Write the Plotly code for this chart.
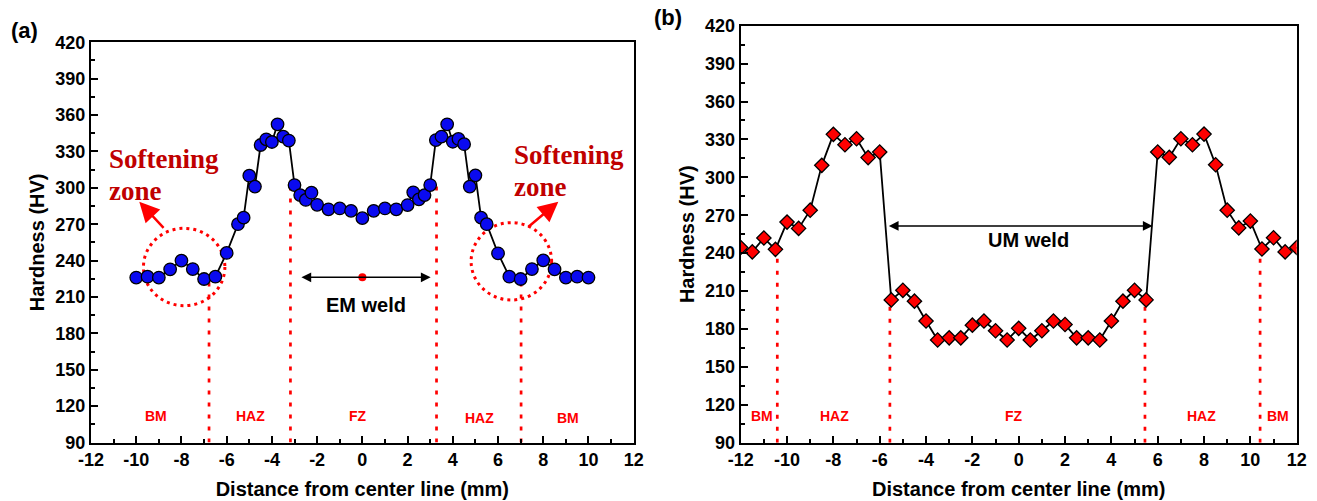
import plotly.graph_objects as go

# ---------------- data ----------------
# Panel (a): EM weld
dist_a = [-10, -9.5, -9, -8.5, -8, -7.5, -7, -6.5, -6, -5.5, -5.25, -5, -4.75, -4.5,
          -4.25, -4, -3.75, -3.5, -3.25, -3, -2.75, -2.5, -2.25, -2, -1.5, -1, -0.5, 0,
          0.5, 1, 1.5, 2, 2.25, 2.5, 2.75, 3, 3.25, 3.5, 3.75, 4, 4.25, 4.5, 4.75, 5,
          5.25, 5.5, 6, 6.5, 7, 7.5, 8, 8.5, 9, 9.5, 10]
hv_a = [226, 226.7, 226, 232.8, 240, 233, 224.8, 226.7, 246.3, 270, 275.4, 310, 301, 335.3,
        340, 337.8, 352.4, 342.2, 339, 302.3, 294, 290, 296, 286, 282.3, 283, 281, 275,
        281, 283, 282.3, 285.8, 296.3, 290.5, 294, 302.3, 339.4, 342.2, 352.4, 338, 340.3, 336, 301, 310.3,
        275.4, 270, 246, 226.7, 224.8, 233, 240.2, 232.8, 226, 226.7, 226]

# Panel (b): UM weld
dist_b = [-12, -11.5, -11, -10.5, -10, -9.5, -9, -8.5, -8, -7.5, -7, -6.5, -6, -5.5, -5,
          -4.5, -4, -3.5, -3, -2.5, -2, -1.5, -1, -0.5, 0, 0.5, 1, 1.5, 2, 2.5, 3, 3.5,
          4, 4.5, 5, 5.5, 6, 6.5, 7, 7.5, 8, 8.5, 9, 9.5, 10, 10.5, 11, 11.5, 12]
hv_b = [244.5, 241, 252, 243, 264.6, 259.6, 274, 309.5, 334, 325.8, 330.5, 315.6, 320, 203, 210.6,
        202, 186.3, 171.3, 173, 173, 183, 186.3, 178.6, 171.3, 180.5, 171.3, 178.6, 186.3, 183.5, 173, 173, 171.3,
        186.3, 202, 210.6, 203, 320, 315.8, 330.5, 325.8, 334.2, 310, 274, 260, 265.4, 243.3, 252.2, 241, 244.5]

# tick labels
x_tickvals = [-12, -10, -8, -6, -4, -2, 0, 2, 4, 6, 8, 10, 12]
x_ticktext = ["-12", "-10", "-8", "-6", "-4", "-2", "0", "2", "4", "6", "8", "10", "12"]
y_tickvals = [90, 120, 150, 180, 210, 240, 270, 300, 330, 360, 390, 420]
y_ticktext = ["90", "120", "150", "180", "210", "240", "270", "300", "330", "360", "390", "420"]

# zone labels
zone_text_a = ["BM", "HAZ", "FZ", "HAZ", "BM"]
zone_x_a = [-9.14, -4.94, -0.18, 5.2, 9.11]
zone_y_a = [112, 111.6, 111.6, 110, 110]
zone_text_b = ["BM", "HAZ", "FZ", "HAZ", "BM"]
zone_x_b = [-11.1, -7.93, -0.2, 7.87, 11.19]
zone_y_b = [111.2, 111.5, 111, 111.5, 111]

# zone boundaries (x position, top value)
bound_x_a = [-6.78, -3.18, 3.28, 7.02]
bound_top_a = [226, 300, 301, 224]
bound_x_b = [-10.42, -5.56, 5.45, 10.42]
bound_top_b = [243, 203, 203, 243]

# weld-width arrows
em_arrow = [-2.76, 3.02, 226.2]
em_dot_x = [0]
em_dot_y = [226.2]
um_arrow = [-5.67, 5.78, 261.5]

# softening zone circles (cx, cy, rx, ry)
soft_circles = [(-7.88, 234.7, 1.8, 31.9), (6.59, 239.4, 1.78, 31.9)]

# ---------------- figure ----------------
W, H = 1317, 501
SANS = "Liberation Sans, Arial, sans-serif"
SERIF = "Liberation Serif, Times New Roman, serif"
RED = "#FF0000"
DARKRED = "#C00000"

fig = go.Figure()

fig.add_trace(go.Scatter(
    x=dist_a, y=hv_a, mode="lines+markers", xaxis="x", yaxis="y",
    line=dict(color="black", width=1.8),
    marker=dict(symbol="circle", size=12.5, color="#0A0AF0", line=dict(color="black", width=1.3)),
    showlegend=False))
fig.add_trace(go.Scatter(
    x=em_dot_x, y=em_dot_y, mode="markers", xaxis="x", yaxis="y",
    marker=dict(symbol="circle", size=8, color=RED), showlegend=False))
fig.add_trace(go.Scatter(
    x=dist_b, y=hv_b, mode="lines+markers", xaxis="x2", yaxis="y2",
    line=dict(color="black", width=1.8),
    marker=dict(symbol="diamond", size=11, color=RED, line=dict(color="black", width=1.3)),
    showlegend=False))

axis_common = dict(
    showline=True, linecolor="black", linewidth=2, mirror=True,
    ticks="inside", ticklen=7, tickwidth=2, tickcolor="black",
    showgrid=False, zeroline=False,
    tickfont=dict(family=SANS, size=18, color="black", weight="bold"),
    automargin=False,
)
xaxis_common = dict(axis_common, range=[-12, 12], tickmode="array",
                    tickvals=x_tickvals, ticktext=x_ticktext,
                    minor=dict(ticks="inside", ticklen=4, tickwidth=2, dtick=1, tick0=-12, tickcolor="black"),
                    title=dict(text="Distance from center line (mm)",
                               font=dict(family=SANS, size=20, color="black", weight="bold"),
                               standoff=13))
yaxis_common = dict(axis_common, range=[90, 420], tickmode="array",
                    tickvals=y_tickvals, ticktext=y_ticktext,
                    minor=dict(ticks="inside", ticklen=4, tickwidth=2, dtick=15, tick0=90, tickcolor="black"),
                    title=dict(text="Hardness (HV)",
                               font=dict(family=SANS, size=20, color="black", weight="bold"),
                               standoff=5))

fig.update_layout(
    width=W, height=H,
    margin=dict(l=0, r=0, t=0, b=0),
    paper_bgcolor="white", plot_bgcolor="white",
    xaxis=dict(xaxis_common, domain=[91 / W, 633.7 / W], anchor="y"),
    yaxis=dict(yaxis_common, domain=[1 - 442.5 / H, 1 - 42.3 / H], anchor="x"),
    xaxis2=dict(xaxis_common, domain=[740.7 / W, 1296.7 / W], anchor="y2"),
    yaxis2=dict(yaxis_common, domain=[1 - 442.7 / H, 1 - 25.7 / H], anchor="x2"),
)

shapes = []
for bx, bt in zip(bound_x_a, bound_top_a):
    shapes.append(dict(type="line", xref="x", yref="y", x0=bx, x1=bx, y0=90, y1=bt,
                       line=dict(color=RED, width=2.7, dash="4px,8px"), layer="below"))
for bx, bt in zip(bound_x_b, bound_top_b):
    shapes.append(dict(type="line", xref="x2", yref="y2", x0=bx, x1=bx, y0=90, y1=bt,
                       line=dict(color=RED, width=2.7, dash="4px,8px"), layer="below"))
for cx, cy, rx, ry in soft_circles:
    shapes.append(dict(type="circle", xref="x", yref="y", x0=cx - rx, x1=cx + rx, y0=cy - ry, y1=cy + ry,
                       line=dict(color=RED, width=3, dash="3px,4px"), layer="below"))
fig.update_layout(shapes=shapes)

ann = []
# panel labels
ann.append(dict(text="(a)", xref="paper", yref="paper", x=24 / W, y=1 - 31 / H, showarrow=False,
                xanchor="center", yanchor="middle",
                font=dict(family=SANS, size=22, color="black", weight="bold")))
ann.append(dict(text="(b)", xref="paper", yref="paper", x=668 / W, y=1 - 17 / H, showarrow=False,
                xanchor="center", yanchor="middle",
                font=dict(family=SANS, size=22, color="black", weight="bold")))
# zone labels
for t, zx, zy in zip(zone_text_a, zone_x_a, zone_y_a):
    ann.append(dict(text=t, xref="x", yref="y", x=zx, y=zy, showarrow=False,
                    font=dict(family=SANS, size=14, color=RED, weight="bold")))
for t, zx, zy in zip(zone_text_b, zone_x_b, zone_y_b):
    ann.append(dict(text=t, xref="x2", yref="y2", x=zx, y=zy, showarrow=False,
                    font=dict(family=SANS, size=14, color=RED, weight="bold")))
# softening zone text
soft_font = dict(family=SERIF, size=27, color=DARKRED, weight="bold")
for px, py, t in [(107, 158.5, "Softening"), (107, 191, "zone"),
                  (511.5, 155, "Softening"), (511.5, 187, "zone")]:
    ann.append(dict(text=t, xref="paper", yref="paper", x=px / W, y=1 - py / H,
                    xanchor="left", yanchor="middle", showarrow=False, font=soft_font))
# softening arrows (tip in data coords, tail offset in px)
ann.append(dict(text="", xref="x", yref="y", x=(139.3 - 362.35) / 22.61, y=420 - (201.7 - 42.3) / 1.2127,
                ax=25.7, ay=27.6, showarrow=True, arrowhead=2, arrowsize=1.6, arrowwidth=2.5, arrowcolor=RED))
ann.append(dict(text="", xref="x", yref="y", x=(558.3 - 362.35) / 22.61, y=420 - (201.7 - 42.3) / 1.2127,
                ax=-31.6, ay=26.6, showarrow=True, arrowhead=2, arrowsize=1.6, arrowwidth=2.5, arrowcolor=RED))
# EM weld arrow
ann.append(dict(text="", xref="x", yref="y", x=em_arrow[1], y=em_arrow[2],
                axref="x", ayref="y", ax=em_arrow[0], ay=em_arrow[2],
                showarrow=True, arrowhead=2, arrowside="end+start", arrowsize=1.3, arrowwidth=1.5,
                arrowcolor="black"))
ann.append(dict(text="EM weld", xref="x", yref="y", x=0.15, y=203.4, showarrow=False,
                font=dict(family=SANS, size=20, color="black", weight="bold")))
# UM weld arrow
ann.append(dict(text="", xref="x2", yref="y2", x=um_arrow[1], y=um_arrow[2],
                axref="x2", ayref="y2", ax=um_arrow[0], ay=um_arrow[2],
                showarrow=True, arrowhead=2, arrowside="end+start", arrowsize=1.3, arrowwidth=1.5,
                arrowcolor="black"))
ann.append(dict(text="UM weld", xref="x2", yref="y2", x=0.42, y=250.6, showarrow=False,
                font=dict(family=SANS, size=20, color="black", weight="bold")))
fig.update_layout(annotations=ann)

fig.write_html("out.html")
